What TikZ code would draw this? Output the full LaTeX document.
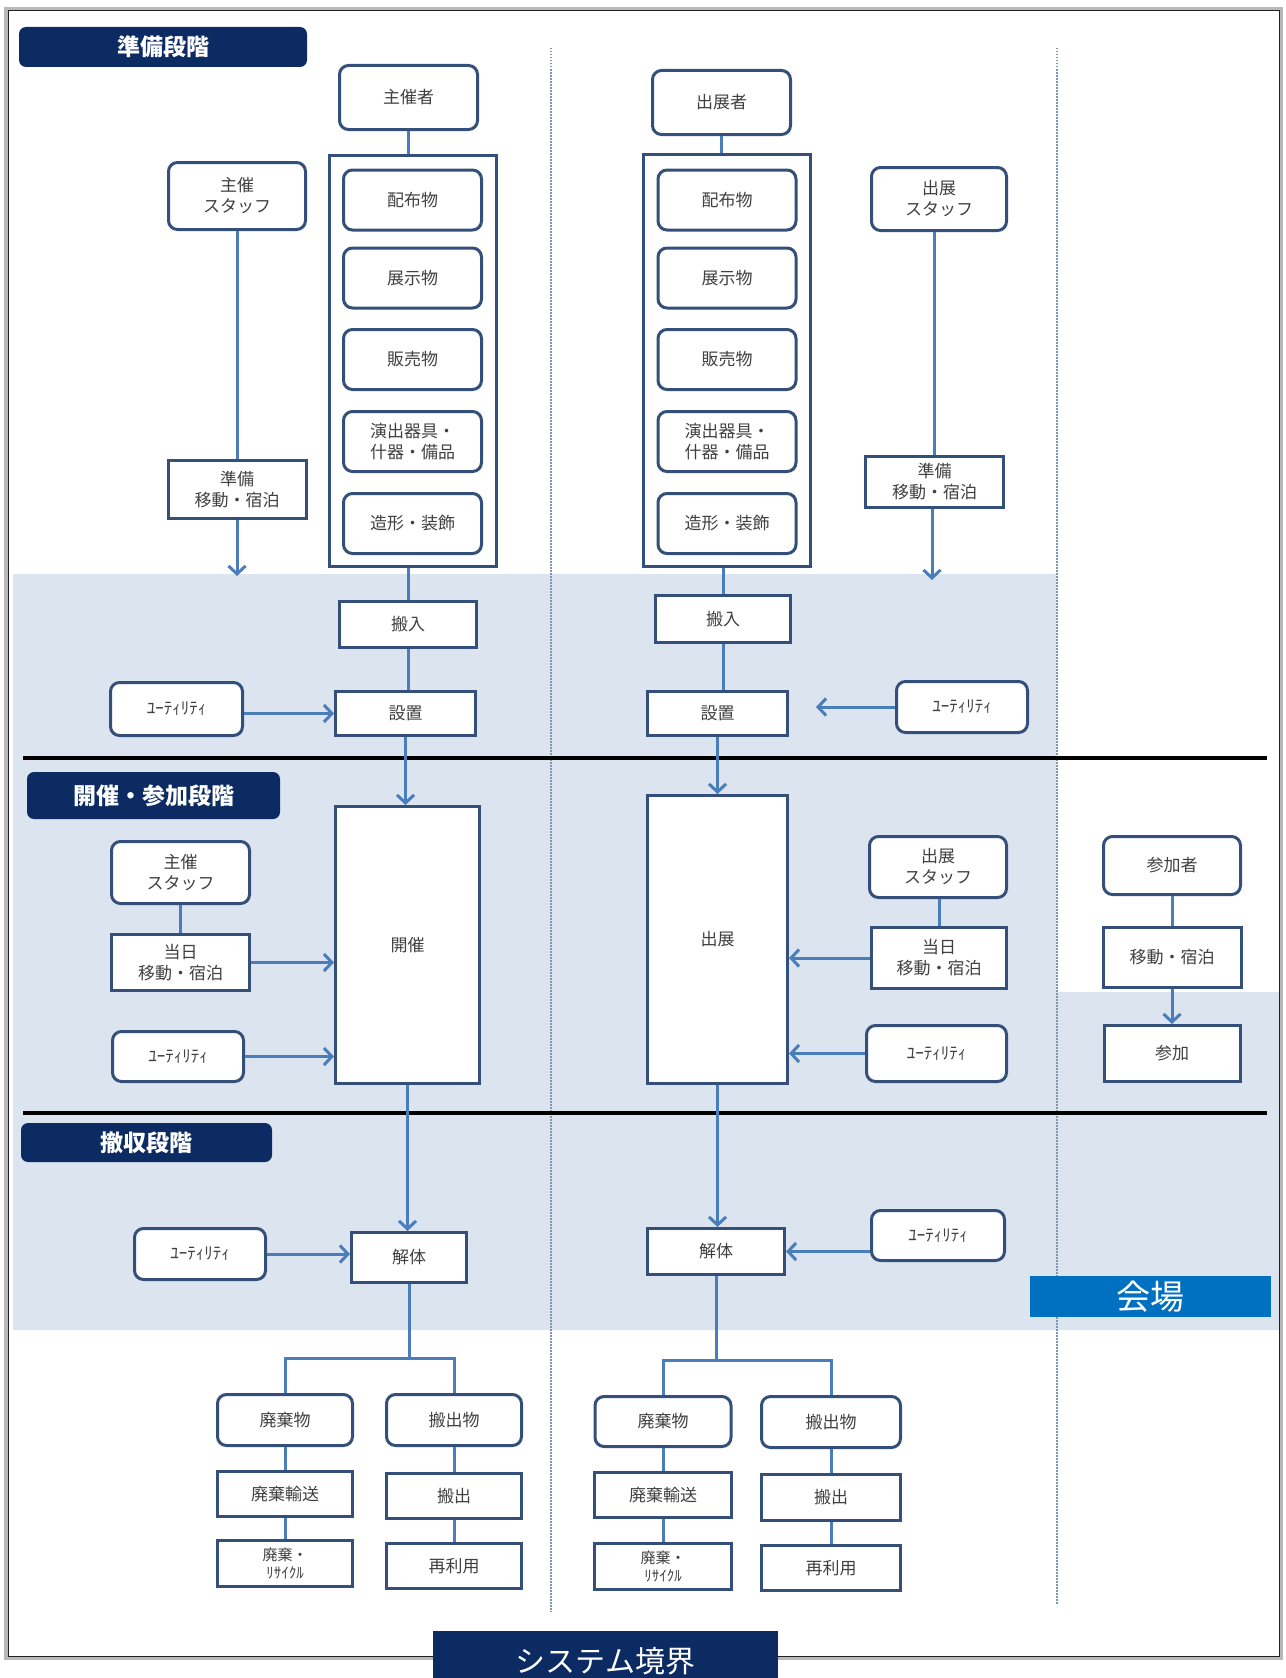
\documentclass[tikz,border=0pt]{standalone}
\usepackage{fontspec}
\setmainfont{Noto Sans CJK JP}
\usepackage{xcolor}
\definecolor{EventNavy}{HTML}{0C2B63}
\definecolor{EventBorder}{HTML}{34507A}
\definecolor{EventLine}{HTML}{4A7EBB}
\definecolor{EventShade}{HTML}{DCE4F0}
\definecolor{EventBlue}{HTML}{0070C0}
\definecolor{EventText}{HTML}{404040}
\definecolor{EventDots}{HTML}{8095B0}
\usetikzlibrary{arrows.meta}

\begin{document}
\begin{tikzpicture}[x=1pt, y=-1pt,
  rbox/.style={draw=EventBorder, line width=3pt, fill=white, rounded corners=9pt, text=EventText,
    align=center, inner sep=0pt, font=\fontsize{17}{21}\selectfont},
  sbox/.style={rbox, sharp corners},
  phase/.style={fill=EventNavy, rounded corners=7pt, text=white, inner sep=0pt,
    font=\fontsize{23}{26}\selectfont\bfseries},
  flow/.style={draw=EventLine, line width=3pt},
  flowarr/.style={flow, -{Straight Barb[length=8pt,width=17pt]}}]
  \useasboundingbox (0,0) rectangle (1285,1678);
  % venue area and stage lines
  \fill[EventShade] (13,574) -- (1056,574) -- (1056,992) -- (1280,992) -- (1280,1330) -- (13,1330) -- cycle;
  \draw[EventDots, line width=1.5pt, dash pattern=on 1.5pt off 1.5pt] (551,48) -- (551,1612);
  \draw[EventDots, line width=1.5pt, dash pattern=on 1.5pt off 1.5pt] (1057,48) -- (1057,1605);
  \draw[black, line width=4pt] (23,758) -- (1267,758);
  \draw[black, line width=4pt] (23,1113) -- (1267,1113);
  \draw[gray!55, line width=4pt] (6,9) rectangle (1281,1658);
  \draw[gray!25!black, line width=1pt] (8,11) rectangle (1279,1656);
  % stage labels
  \node[phase, minimum width=288pt, minimum height=40pt] (ph1) at (163,47) {準備段階};
  \node[phase, minimum width=253pt, minimum height=47pt] (ph2) at (153.5,795.5) {開催・参加段階};
  \node[phase, minimum width=251pt, minimum height=39pt] (ph3) at (146.5,1142.5) {撤収段階};
  \node[fill=EventBlue, text=white, minimum width=241pt, minimum height=41pt, inner sep=0pt,
    font=\fontsize{34}{36}\selectfont] (venue) at (1150.5,1296.5) {会場};
  % organiser side
  \node[rbox, minimum width=138pt, minimum height=64pt] (shu) at (408.5,97.5) {主催者};
  \node[draw=EventBorder, line width=3pt, fill=white, minimum width=167pt, minimum height=411pt] (grpL) at (413,361) {};
  \node[draw=EventBorder, line width=3pt, fill=white, minimum width=167pt, minimum height=412pt] (grpR) at (727,360.5) {};
  \foreach \y/\t [count=\i] in {200/配布物, 278/展示物, 359.5/販売物, 441.5/{演出器具・\\什器・備品}, 523.5/造形・装飾} {
    \node[rbox, minimum width=138pt, minimum height=60pt] (itemL\i) at (412.5,\y) {\t};
    \node[rbox, minimum width=138pt, minimum height=60pt] (itemR\i) at (727,\y) {\t};
  }
  \node[rbox, minimum width=137pt, minimum height=67pt] (staffL1) at (237,196) {主催\\スタッフ};
  \node[sbox, minimum width=138pt, minimum height=58pt] (junbiL) at (237,489.5) {準備\\移動・宿泊};
  \node[sbox, minimum width=137pt, minimum height=46pt] (hannyuL) at (408,624.5) {搬入};
  \node[sbox, minimum width=140pt, minimum height=44pt] (setchiL) at (405.5,713.5) {設置};
  \node[rbox, minimum width=132pt, minimum height=53pt] (utilL1) at (176.5,709) {ﾕｰﾃｨﾘﾃｨ};
  \node[sbox, minimum width=144pt, minimum height=277pt] (kaisai) at (407.5,945) {開催};
  \node[rbox, minimum width=138pt, minimum height=62pt] (staffL2) at (180.5,872.5) {主催\\スタッフ};
  \node[sbox, minimum width=138pt, minimum height=56pt] (tojitsuL) at (180.5,962.5) {当日\\移動・宿泊};
  \node[rbox, minimum width=131pt, minimum height=50pt] (utilL2) at (178,1056.5) {ﾕｰﾃｨﾘﾃｨ};
  \node[sbox, minimum width=115pt, minimum height=50pt] (kaitaiL) at (409,1257.5) {解体};
  \node[rbox, minimum width=131pt, minimum height=51pt] (utilL3) at (200,1254) {ﾕｰﾃｨﾘﾃｨ};
  \node[rbox, minimum width=135pt, minimum height=51pt] (haikiL) at (285,1420) {廃棄物};
  \node[rbox, minimum width=135pt, minimum height=51pt] (hbutsuL) at (454,1420) {搬出物};
  \node[sbox, minimum width=135pt, minimum height=45pt] (yusoL) at (285,1494) {廃棄輸送};
  \node[sbox, minimum width=135pt, minimum height=45pt] (hshutsuL) at (454,1496) {搬出};
  \node[sbox, minimum width=135pt, minimum height=46pt, font=\fontsize{15}{18}\selectfont] (recycL) at (285,1563.5) {廃棄・\\ﾘｻｲｸﾙ};
  \node[sbox, minimum width=135pt, minimum height=45pt] (reuseL) at (454,1566) {再利用};
  % exhibitor side
  \node[rbox, minimum width=138pt, minimum height=64pt] (shutsu) at (721.5,102.5) {出展者};
  \node[rbox, minimum width=135pt, minimum height=63pt] (staffR1) at (939,199) {出展\\スタッフ};
  \node[sbox, minimum width=138pt, minimum height=51pt] (junbiR) at (934.5,482) {準備\\移動・宿泊};
  \node[sbox, minimum width=135pt, minimum height=47pt] (hannyuR) at (723,619) {搬入};
  \node[sbox, minimum width=140pt, minimum height=44pt] (setchiR) at (717.5,713.5) {設置};
  \node[rbox, minimum width=131pt, minimum height=51pt] (utilR1) at (962,707) {ﾕｰﾃｨﾘﾃｨ};
  \node[sbox, minimum width=140pt, minimum height=288pt] (tenji) at (717.5,939.5) {出展};
  \node[rbox, minimum width=137pt, minimum height=61pt] (staffR2) at (938,867) {出展\\スタッフ};
  \node[sbox, minimum width=135pt, minimum height=61pt] (tojitsuR) at (939,958) {当日\\移動・宿泊};
  \node[rbox, minimum width=140pt, minimum height=56pt] (utilR2) at (936.5,1053.5) {ﾕｰﾃｨﾘﾃｨ};
  \node[sbox, minimum width=137pt, minimum height=46pt] (kaitaiR) at (716,1251.5) {解体};
  \node[rbox, minimum width=133pt, minimum height=50pt] (utilR3) at (938,1235.5) {ﾕｰﾃｨﾘﾃｨ};
  \node[rbox, minimum width=136pt, minimum height=50pt] (haikiR) at (663,1421.5) {廃棄物};
  \node[rbox, minimum width=139pt, minimum height=51pt] (hbutsuR) at (831,1422) {搬出物};
  \node[sbox, minimum width=137pt, minimum height=45pt] (yusoR) at (663,1495) {廃棄輸送};
  \node[sbox, minimum width=139pt, minimum height=46pt] (hshutsuR) at (831,1497.5) {搬出};
  \node[sbox, minimum width=137pt, minimum height=46pt, font=\fontsize{15}{18}\selectfont] (recycR) at (663,1566.5) {廃棄・\\ﾘｻｲｸﾙ};
  \node[sbox, minimum width=139pt, minimum height=45pt] (reuseR) at (831,1568) {再利用};
  % visitor side
  \node[rbox, minimum width=137pt, minimum height=58pt] (sankasha) at (1172,865.5) {参加者};
  \node[sbox, minimum width=138pt, minimum height=60pt] (idoV) at (1172,957.5) {移動・宿泊};
  \node[sbox, minimum width=136pt, minimum height=56pt] (sanka) at (1172,1053.5) {参加};
  % connectors
  \coordinate (endL) at (237,576);
  \coordinate (endR) at (932,580);
  \coordinate (brL) at (0,1358);
  \coordinate (brR) at (0,1360);
  \draw[flow] (shu.south) -- (shu.south |- grpL.north);
  \draw[flow] (shutsu.south) -- (shutsu.south |- grpR.north);
  \draw[flow] (staffL1.south) -- (staffL1.south |- junbiL.north);
  \draw[flow] (staffR1.south -| junbiR.north) -- (junbiR.north);
  \draw[flowarr] (junbiL.south) -- (junbiL.south |- endL);
  \draw[flowarr] (junbiR.south -| endR) -- (endR);
  \draw[flow] (hannyuL.north |- grpL.south) -- (hannyuL.north);
  \draw[flow] (hannyuR.north |- grpR.south) -- (hannyuR.north);
  \draw[flow] (hannyuL.south) -- (hannyuL.south |- setchiL.north);
  \draw[flow] (hannyuR.south) -- (hannyuR.south |- setchiR.north);
  \draw[flowarr] (utilL1.east |- setchiL.west) -- (setchiL.west);
  \draw[flowarr, shorten >=27pt] (utilR1.west) -- (utilR1.west -| setchiR.east);
  \draw[flowarr] (setchiL.south) -- (setchiL.south |- kaisai.north);
  \draw[flowarr] (setchiR.south) -- (setchiR.south |- tenji.north);
  \draw[flow] (staffL2) -- (tojitsuL);
  \draw[flow] (staffR2.south -| tojitsuR.north) -- (tojitsuR.north);
  \draw[flow] (sankasha) -- (idoV);
  \draw[flowarr] (idoV) -- (sanka);
  \draw[flowarr] (tojitsuL.east) -- (tojitsuL.east -| kaisai.west);
  \draw[flowarr] (utilL2.east) -- (utilL2.east -| kaisai.west);
  \draw[flowarr] (tojitsuR.west) -- (tojitsuR.west -| tenji.east);
  \draw[flowarr] (utilR2.west) -- (utilR2.west -| tenji.east);
  \draw[flowarr] (kaisai.south) -- (kaisai.south |- kaitaiL.north);
  \draw[flowarr] (tenji.south) -- (tenji.south |- kaitaiR.north);
  \draw[flowarr] (utilL3.east) -- (utilL3.east -| kaitaiL.west);
  \draw[flowarr] (utilR3.west |- kaitaiR.east) -- (kaitaiR.east);
  % dismantling trees
  \draw[flow] (kaitaiL.south) -- (kaitaiL.south |- brL);
  \draw[flow] (haikiL.north) |- (kaitaiL.south |- brL) -| (hbutsuL.north);
  \draw[flow] (kaitaiR.south) -- (kaitaiR.south |- brR);
  \draw[flow] (haikiR.north) |- (kaitaiR.south |- brR) -| (hbutsuR.north);
  \draw[flow] (haikiL) -- (yusoL);
  \draw[flow] (yusoL) -- (recycL);
  \draw[flow] (hbutsuL) -- (hshutsuL);
  \draw[flow] (hshutsuL) -- (reuseL);
  \draw[flow] (haikiR) -- (yusoR);
  \draw[flow] (yusoR) -- (recycR);
  \draw[flow] (hbutsuR) -- (hshutsuR);
  \draw[flow] (hshutsuR) -- (reuseR);
  % system boundary label
  \node[fill=EventNavy, text=white, minimum width=345pt, minimum height=60pt, inner sep=0pt,
    font=\fontsize{30}{32}\selectfont] (sysb) at (605.5,1661) {システム境界};
\end{tikzpicture}
\end{document}
